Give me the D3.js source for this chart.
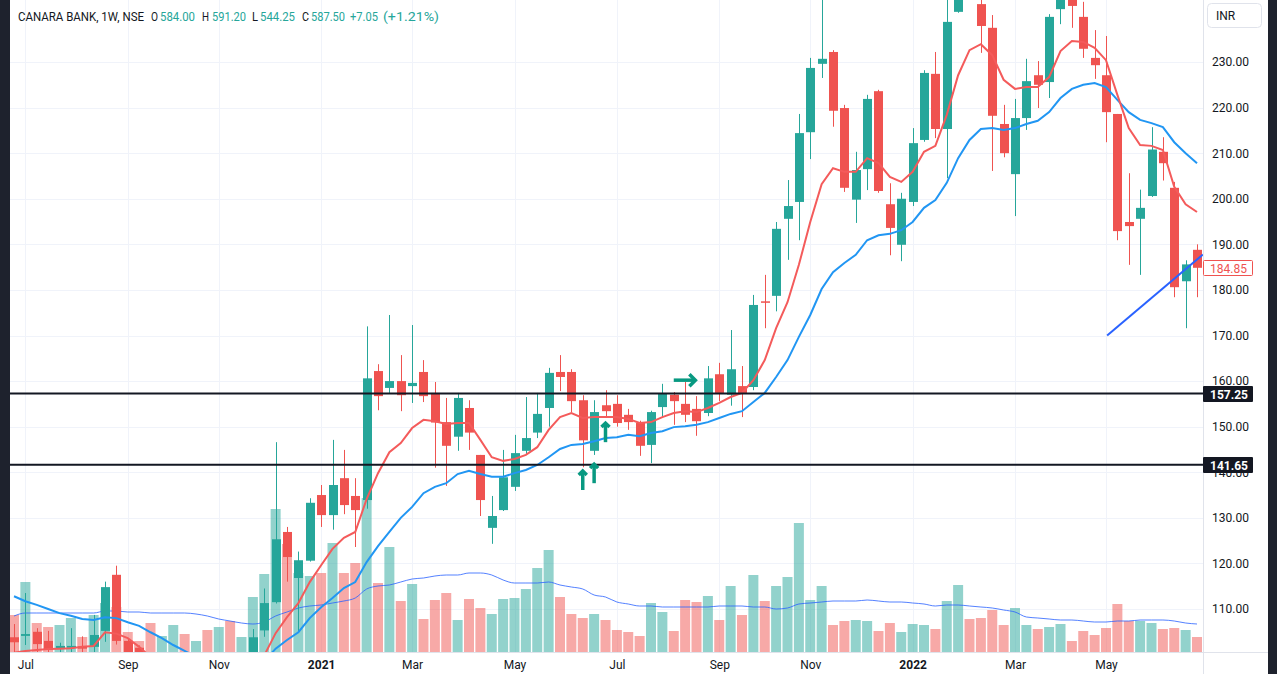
<!DOCTYPE html>
<html lang="en">
<head>
<meta charset="UTF-8">
<title>CANARA BANK 1W</title>
<style>
  body, html { margin: 0; padding: 0; background: #ffffff; }
  #chart { width: 1277px; height: 674px; }
  text { font-family: "Trebuchet MS", Roboto, "Noto Sans", sans-serif; }
</style>
</head>
<body>
<div id="chart"></div>
<script src="https://cdn.jsdelivr.net/npm/d3@7"></script>
<script>
// weekly bars, first one is the week of 29 Jun 2020
const dates = d3.timeMonday.range(new Date(2020, 5, 29), new Date(2022, 5, 28));

const open = [103.8,104.1,105.0,103.0,101.3,101.5,101.8,101.7,105.2,117.5,
  103.0,101.5,99.5,96.0,97.5,98.5,95.0,96.5,94.0,96.0,
  94.5,98.0,105.3,111.5,126.9,116.8,120.6,135.0,130.6,138.7,
  134.8,133.9,162.2,158.5,160.0,158.9,162.0,157.4,151.0,147.8,
  154.1,143.8,127.8,131.7,136.8,144.7,148.7,154.1,162.0,162.0,
  155.8,144.7,154.7,155.0,152.6,150.8,146.0,154.3,157.0,155.0,
  153.9,153.0,161.5,157.0,158.9,158.7,177.5,178.7,195.6,199.3,
  214.6,229.6,232.2,219.9,199.8,206.5,223.6,198.8,189.9,199.3,
  212.9,227.4,215.3,241.0,250.0,242.7,237.5,216.4,205.4,217.7,
  227.1,225.6,241.6,245.0,239.9,230.9,227.1,218.6,194.9,195.6,
  200.6,210.3,202.4,181.9,188.8];
const high = [106.7,113.5,105.8,105.2,102.6,105.8,104.0,108.7,116.0,119.5,
  103.5,102.0,99.8,99.0,99.5,99.3,98.0,97.5,97.0,98.0,
  99.5,105.6,114.5,146.6,128.0,122.6,134.3,137.2,147.1,144.9,
  138.7,172.0,163.7,174.5,165.7,172.3,164.6,159.8,156.3,157.4,
  155.8,143.8,134.8,144.9,148.2,156.5,157.4,162.9,165.7,162.6,
  156.9,155.8,158.0,156.9,153.9,151.3,153.5,159.4,157.6,159.8,
  156.7,163.3,164.0,171.2,163.3,178.9,183.3,194.9,204.1,218.6,
  230.9,246.0,232.6,220.6,210.3,222.8,223.9,203.4,201.3,215.5,
  228.2,232.2,245.0,248.0,253.0,247.0,240.3,220.6,221.9,230.7,
  230.2,240.5,248.0,248.0,243.2,237.0,235.7,218.6,205.6,202.0,
  215.7,213.5,203.7,186.5,190.0];
const low = [100.0,102.1,100.5,100.0,100.5,100.5,100.5,100.5,102.8,102.2,
  98.0,97.0,94.5,94.0,95.0,93.5,93.0,92.0,92.5,93.0,
  93.5,97.0,103.9,111.2,116.0,105.0,120.4,128.0,127.4,130.8,
  123.6,132.0,153.6,157.4,153.4,155.2,155.4,141.0,137.0,144.7,
  144.9,130.4,124.3,131.5,135.9,143.8,147.5,150.0,157.8,153.2,
  141.1,143.8,152.1,150.0,149.3,143.6,142.0,152.1,150.4,151.0,
  148.0,152.3,155.6,154.6,152.1,158.0,171.6,175.3,186.6,190.9,
  208.7,226.5,215.8,201.5,194.7,201.9,201.3,187.6,186.3,198.4,
  212.5,213.3,204.5,240.8,244.0,232.0,206.1,209.1,196.2,215.1,
  219.9,222.1,238.3,237.5,230.9,226.3,212.4,190.9,185.5,183.3,
  200.4,204.0,178.4,171.6,178.4];
const close = [102.7,104.5,102.3,101.0,101.9,101.9,101.3,104.3,114.8,103.0,
  100.0,99.0,96.0,97.5,98.5,95.0,96.5,94.0,96.0,94.5,
  98.0,103.8,111.3,125.3,121.4,120.7,133.3,130.6,137.2,132.8,
  131.7,160.6,156.7,160.0,156.9,159.6,156.7,150.9,145.8,156.3,
  148.7,133.9,130.4,138.9,144.2,147.5,152.8,161.8,160.9,155.6,
  147.0,153.2,153.4,150.8,151.0,145.8,153.2,157.2,155.6,152.6,
  151.2,160.6,157.4,162.6,157.4,176.7,177.2,193.4,198.4,214.4,
  228.7,230.7,219.3,202.4,206.3,221.9,201.7,193.6,200.0,212.2,
  227.6,215.3,238.8,246.0,247.0,237.9,218.2,210.0,217.7,225.8,
  225.0,239.9,246.0,242.3,232.9,229.3,219.0,192.9,194.0,198.0,
  210.8,207.8,180.6,185.6,184.85];
const volume = [74,140,58,50,54,68,30,74,98,90,
  40,22,58,32,54,36,22,44,50,62,
  30,110,156,286,216,158,152,158,218,158,
  178,308,138,210,102,136,66,104,118,64,
  106,88,76,106,108,126,168,204,110,76,
  68,76,64,44,40,32,98,80,42,104,
  100,112,64,132,74,154,102,132,150,258,
  104,132,54,62,64,62,42,58,40,56,
  54,46,102,134,66,68,84,54,88,54,
  46,50,56,22,42,34,48,96,62,62,
  58,46,48,44,30];
const emaFast = [100.4,100.8,101.0,101.2,101.3,101.4,101.7,101.9,104.9,104.6,
  103.6,101.7,99.5,98.5,98.3,97.5,97.2,96.5,96.3,95.8,
  96.2,98.5,99.8,104.7,108.2,111.3,115.9,119.6,123.2,125.6,
  126.9,134.1,139.8,144.4,146.4,149.7,151.5,151.2,150.6,150.8,
  150.8,147.1,143.3,142.5,142.9,143.8,145.5,149.3,152.1,153.0,
  151.9,152.1,152.1,152.1,151.7,150.8,151.0,152.1,153.0,153.4,
  153.2,154.1,155.2,156.5,157.4,160.2,164.6,171.6,177.3,185.5,
  194.9,203.2,206.7,205.9,205.9,208.9,207.8,204.8,203.7,205.9,
  210.3,211.6,218.4,227.1,232.6,233.9,231.5,226.1,224.1,224.5,
  224.5,226.7,232.4,234.6,234.4,233.1,230.4,222.8,215.5,211.8,
  211.6,210.7,202.6,198.8,197.1];
const emaSlow = [112.8,111.7,110.9,110.0,109.1,108.5,107.8,107.6,108.2,108.0,
  107.1,106.3,104.9,103.6,102.1,100.8,99.5,98.9,98.4,97.9,
  97.5,97.6,98.5,101.3,103.2,104.9,108.0,110.4,112.4,114.6,
  115.9,120.3,123.8,126.9,130.0,132.4,135.4,136.8,137.6,139.6,
  140.3,139.6,139.0,139.0,139.8,140.5,141.6,143.3,145.1,146.0,
  146.2,146.8,147.5,147.7,148.2,147.9,148.6,149.0,149.9,150.1,
  150.4,151.0,151.9,152.8,153.4,155.4,157.4,160.9,164.6,169.7,
  174.5,180.2,183.9,185.9,187.7,190.9,192.0,192.3,193.1,194.9,
  198.0,199.7,203.5,208.9,212.9,215.3,215.5,215.1,215.5,216.4,
  217.1,219.0,222.1,224.1,225.0,225.4,224.5,221.7,219.0,217.3,
  216.6,215.7,212.4,210.0,207.8];
const volumeMA = [72,78,78,78,78,78,78,78,82,82,
  80,80,78,78,78,78,76,72,66,62,
  58,56,60,72,80,88,92,94,98,102,
  108,126,132,134,140,146,148,152,154,154,
  158,158,154,144,138,138,138,140,134,130,
  126,114,110,100,96,92,92,90,90,90,
  90,90,92,92,92,90,90,86,88,96,
  98,100,102,102,102,104,102,100,100,98,
  96,92,94,94,92,90,88,84,80,70,
  68,66,64,64,62,60,60,62,62,64,
  64,64,62,58,56];

// support lines and drawings (bar index, price)
const levels = [157.25, 141.65];
const trendline = [[96.1, 170.0], [104.3, 187.3]];
const upArrows = [[50, 136.1, 140.5], [51, 137.6, 142.0], [52, 146.6, 151.0]];
const rightArrow = [58.0, 59.9, 160.2];
const priceTicks = d3.range(110, 231, 10);

// legend pieces: text, x position, width, colour key
const legendParts = [
  ["CANARA BANK, 1W, NSE", 18, 126, "t"],
  ["O", 151, 7, "t"], ["584.00", 160, 35, "v"],
  ["H", 202, 7, "t"], ["591.20", 212, 34, "v"],
  ["L", 252, 6, "t"], ["544.25", 260, 35, "v"],
  ["C", 302, 7, "t"], ["587.50", 311, 34, "v"],
  ["+7.05", 350, 28, "v"], ["(+1.21%)", 383, 56, "v"]
];

const W = 1277, H = 674;
const L = 10, R = 1203, B = 652;
const up = "#26a69a", down = "#ef5350";

const svg = d3.select("#chart").append("svg").attr("width", W).attr("height", H);

const x = d3.scaleTime().domain([dates[0], dates[dates.length - 1]]).range([14, 1197]);
const xi = d3.scaleLinear().domain([0, dates.length - 1]).range([14, 1197]);
const y = d3.scaleLinear().domain([110, 230]).range([609, 62]);
const yv = d3.scaleLinear().domain([0, 300]).range([B, B - 150]);

// first bar of every other month gets a label
const monthTicks = dates.filter((d, i) => i > 0 && d.getMonth() !== dates[i - 1].getMonth() && d.getMonth() % 2 === 0);

svg.append("defs").append("clipPath").attr("id", "plot")
  .append("rect").attr("x", L).attr("y", 0).attr("width", R - L).attr("height", B);

// grid
const grid = svg.append("g").attr("stroke", "#f0f3fa").attr("stroke-width", 1);
grid.selectAll(".h").data(priceTicks).join("line")
  .attr("x1", L).attr("x2", R).attr("y1", d => Math.round(y(d)) + 0.5).attr("y2", d => Math.round(y(d)) + 0.5);
grid.selectAll(".v").data(monthTicks).join("line")
  .attr("x1", d => Math.round(x(d)) + 0.5).attr("x2", d => Math.round(x(d)) + 0.5).attr("y1", 0).attr("y2", B);

const plot = svg.append("g").attr("clip-path", "url(#plot)");

// volume
plot.append("g").selectAll("rect").data(volume).join("rect")
  .attr("x", (d, i) => x(dates[i]) - 5).attr("width", 10)
  .attr("y", d => yv(d)).attr("height", d => B - yv(d))
  .attr("fill", (d, i) => close[i] >= open[i] ? up : down)
  .attr("fill-opacity", 0.5);

plot.append("path").datum(volumeMA)
  .attr("fill", "none").attr("stroke", "#2962ff").attr("stroke-opacity", 0.8).attr("stroke-width", 1)
  .attr("d", d3.line().x((d, i) => x(dates[i])).y(d => yv(d)).curve(d3.curveMonotoneX));

// candles
const candle = plot.append("g").selectAll("g").data(dates).join("g")
  .attr("fill", (d, i) => close[i] >= open[i] ? up : down)
  .attr("stroke", (d, i) => close[i] >= open[i] ? up : down);
candle.append("line")
  .attr("x1", d => Math.round(x(d)) + 0.5).attr("x2", d => Math.round(x(d)) + 0.5)
  .attr("y1", (d, i) => y(high[i])).attr("y2", (d, i) => y(low[i]))
  .attr("stroke-width", 1);
candle.append("rect").attr("stroke", "none")
  .attr("x", d => Math.round(x(d)) - 4).attr("width", 9)
  .attr("y", (d, i) => y(Math.max(open[i], close[i])))
  .attr("height", (d, i) => Math.max(1.5, Math.abs(y(open[i]) - y(close[i]))));

// moving averages
const line = d3.line().x((d, i) => x(dates[i])).y(d => y(d));
plot.append("path").datum(emaSlow).attr("fill", "none").attr("stroke", "#2196f3").attr("stroke-width", 2).attr("d", line);
plot.append("path").datum(emaFast).attr("fill", "none").attr("stroke", "#f45b5b").attr("stroke-width", 2).attr("d", line);

// horizontal levels
plot.selectAll(".lvl").data(levels).join("line")
  .attr("x1", L).attr("x2", R).attr("y1", d => y(d)).attr("y2", d => y(d))
  .attr("stroke", "#131722").attr("stroke-width", 2);

// trend line, extended to the right edge
const [t0, t1] = trendline;
const slope = (y(t1[1]) - y(t0[1])) / (xi(t1[0]) - xi(t0[0]));
plot.append("line")
  .attr("x1", xi(t0[0])).attr("y1", y(t0[1]))
  .attr("x2", R).attr("y2", y(t0[1]) + slope * (R - xi(t0[0])))
  .attr("stroke", "#2962ff").attr("stroke-width", 2);

// arrows
const arrowColor = "#089981";
const arrows = plot.append("g").attr("fill", "none").attr("stroke", arrowColor)
  .attr("stroke-width", 3.5).attr("stroke-linejoin", "miter");
upArrows.forEach(([i, p0, p1]) => {
  const ax = xi(i), yb = y(p0), yt = y(p1);
  arrows.append("line").attr("x1", ax).attr("x2", ax).attr("y1", yb).attr("y2", yt + 2);
  arrows.append("polyline").attr("points", `${ax - 4},${yt + 5} ${ax},${yt + 1} ${ax + 4},${yt + 5}`);
});
{
  const [i0, i1, p] = rightArrow;
  const xa = xi(i0), xb = xi(i1), ya = y(p);
  arrows.append("line").attr("x1", xa).attr("x2", xb - 2).attr("y1", ya).attr("y2", ya);
  arrows.append("polyline").attr("points", `${xb - 6},${ya - 6} ${xb},${ya} ${xb - 6},${ya + 6}`);
}

// side strips
svg.append("rect").attr("x", 0).attr("y", 0).attr("width", L).attr("height", H).attr("fill", "#1e222d");
svg.append("rect").attr("x", 1268).attr("y", 0).attr("width", W - 1268).attr("height", H).attr("fill", "#1e222d");

// borders
svg.append("line").attr("x1", R + 0.5).attr("x2", R + 0.5).attr("y1", 0).attr("y2", H).attr("stroke", "#e0e3eb");
svg.append("line").attr("x1", L).attr("x2", 1268).attr("y1", B + 0.5).attr("y2", B + 0.5).attr("stroke", "#e0e3eb");

// price axis
const yAxis = svg.append("g").attr("transform", `translate(${R},0)`)
  .call(d3.axisRight(y).tickValues(priceTicks).tickFormat(d3.format(".2f")).tickSize(0).tickPadding(9));
yAxis.select(".domain").remove();
yAxis.selectAll("text").attr("font-size", 12).attr("fill", "#131722")
  .style("font-family", '"Trebuchet MS", Roboto, sans-serif');

// time axis
const xAxis = svg.append("g").attr("transform", `translate(0,${B})`)
  .call(d3.axisBottom(x).tickValues(monthTicks)
    .tickFormat(d => d.getMonth() === 0 ? d3.timeFormat("%Y")(d) : d3.timeFormat("%b")(d))
    .tickSize(0).tickPadding(8));
xAxis.select(".domain").remove();
xAxis.selectAll("text").attr("font-size", 12).attr("fill", "#131722")
  .attr("font-weight", d => d.getMonth() === 0 ? "bold" : "normal")
  .style("font-family", '"Trebuchet MS", Roboto, sans-serif');

// level labels on the price axis
const tags = svg.append("g").selectAll("g").data(levels).join("g")
  .attr("transform", d => `translate(${R},${Math.round(y(d))})`);
tags.append("rect").attr("x", 0).attr("y", -8).attr("width", 50).attr("height", 16).attr("rx", 1).attr("fill", "#131722");
tags.append("text").attr("x", 7).attr("y", 4.5).attr("fill", "#ffffff")
  .attr("font-size", 12).attr("font-weight", "bold").text(d => d.toFixed(2));

// last price label
const last = close[close.length - 1];
const lp = svg.append("g").attr("transform", `translate(${R},${Math.round(y(last))})`);
lp.append("rect").attr("x", 0.5).attr("y", -7.5).attr("width", 49).attr("height", 15).attr("rx", 1)
  .attr("fill", "#ffffff").attr("stroke", down);
lp.append("text").attr("x", 7).attr("y", 4.5).attr("fill", down).attr("font-size", 12).text(last.toFixed(2));

// currency button
svg.append("rect").attr("x", 1207.5).attr("y", 3.5).attr("width", 54).attr("height", 24).attr("rx", 4)
  .attr("fill", "#ffffff").attr("stroke", "#e0e3eb");
svg.append("text").attr("x", 1216).attr("y", 20).attr("font-size", 12).attr("fill", "#131722").text("INR");

// legend, one text line with placed pieces
svg.append("text").attr("y", 21).attr("font-size", 12)
  .selectAll("tspan").data(legendParts).join("tspan")
  .attr("x", d => d[1])
  .attr("textLength", d => d[2]).attr("lengthAdjust", "spacingAndGlyphs")
  .attr("fill", d => d[3] === "v" ? up : "#131722")
  .text(d => d[0]);
</script>
</body>
</html>
